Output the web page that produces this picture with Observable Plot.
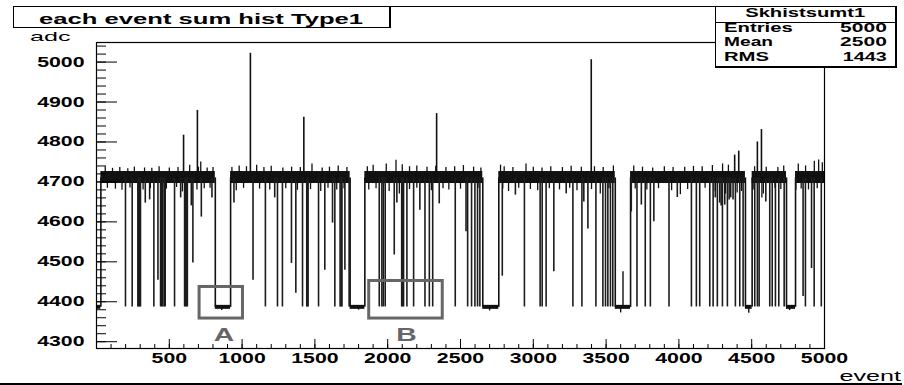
<!DOCTYPE html>
<html><head><meta charset="utf-8">
<script src="https://cdn.jsdelivr.net/npm/d3@7"></script>
<script src="https://cdn.jsdelivr.net/npm/@observablehq/plot@0.6"></script>
<style>
html,body{margin:0;padding:0;background:#fff;}
#wrap{position:relative;width:904px;height:385px;overflow:hidden;font-family:"Liberation Sans",Arial,Helvetica,sans-serif;color:#000;background:#fff;}
#chart{position:absolute;left:0;top:0;}
.t{position:absolute;white-space:nowrap;line-height:1;display:inline-block;}
.ln{position:absolute;background:#000;}
.box{position:absolute;box-sizing:border-box;background:#fff;border:1px solid #000;}
</style></head><body>
<div id="wrap"><div id="chart"></div></div>
<script>
// ---------- data ----------
const titleText = "each event sum hist Type1";
const statsName = "Skhistsumt1";
const statsLabels = ["Entries", "Mean", "RMS"];
const statsValues = ["5000", "2500", "1443"];
const yLabel = "adc";
const xLabel = "event";

const xMajor = [500, 1000, 1500, 2000, 2500, 3000, 3500, 4000, 4500, 5000];
const yMajor = [4300, 4400, 4500, 4600, 4700, 4800, 4900, 5000];

// baseline (noisy band around ~4710) segments [startEvent, endEvent]
const baseSegments = [[30,816],[921,1742],[1843,2653],[2763,3563],[3668,4457],[4503,4739],[4801,5000]];
const bandRange = [4696, 4726];
// low plateaus at ~4386
const lowPlateaus = [[0,30],[816,921],[1742,1843],[2653,2763],[3563,3668],[4457,4503],[4739,4801]];
const plateauRange = [4381, 4391];
const plateauLevel = 4386;
const baseLevel = 4710;
// vertical jumps between baseline and plateaus
const transitions = [30,816,921,1742,1843,2653,2763,3563,3668,4457,4503,4739,4801];

// downward spikes [event, lowest adc]
const drops = [
  [199,4387],[245,4387],[284,4387],[290,4387],[296,4387],[302,4387],[335,4647],[365,4655],[394,4387],[422,4454],
  [440,4387],[447,4387],[455,4387],[465,4387],[472,4387],[536,4387],[578,4660],[605,4387],[612,4387],[618,4387],
  [624,4387],[651,4640],[662,4497],[720,4612],[793,4660],
  [944,4647],[1075,4454],[1160,4387],[1224,4660],[1243,4387],[1277,4387],[1339,4496],[1369,4421],[1415,4387],
  [1444,4387],[1449,4387],[1453,4387],[1525,4387],[1568,4479],[1621,4597],[1637,4387],[1673,4387],[1680,4387],
  [1686,4387],[1706,4479],[1735,4387],
  [1942,4387],[1960,4387],[1970,4387],[1983,4387],[2045,4517],[2063,4647],[2096,4387],[2102,4387],[2109,4387],
  [2132,4387],[2178,4387],[2221,4629],[2256,4387],[2286,4387],[2309,4387],[2354,4645],[2464,4387],[2538,4575],
  [2549,4387],[2576,4387],[2599,4387],[2617,4387],[2633,4387],
  [2787,4464],[2877,4667],[2939,4387],[3047,4387],[3061,4387],[3088,4387],[3141,4475],[3226,4670],[3272,4387],
  [3334,4387],[3347,4650],[3375,4582],[3430,4387],[3478,4387],[3496,4387],[3512,4387],[3530,4387],[3546,4387],
  [3673,4625],[3712,4387],[3742,4642],[3769,4387],[3804,4387],[3828,4600],[3932,4387],[3989,4661],[4086,4387],
  [4120,4387],[4143,4387],[4212,4387],[4235,4387],[4250,4660],[4264,4387],[4280,4647],[4290,4640],[4299,4387],
  [4315,4642],[4333,4387],[4345,4655],[4356,4660],[4372,4655],[4388,4387],[4418,4387],[4441,4387],
  [4521,4387],[4539,4387],[4551,4387],[4597,4650],[4624,4387],[4641,4387],[4663,4387],[4686,4387],[4723,4387],
  [4803,4679],[4853,4413],[4869,4387],[4911,4483],[4929,4387],[4978,4387]
];
// upward spikes [event, peak adc]
const ups = [
  [598,4817],[693,4879],[1057,5022],[1424,4862],[2336,4871],[3398,5006],
  [4383,4767],[4411,4777],[4539,4800],[4567,4831]
];
// excursions inside the low plateaus [event, adc]
const plateauSpikes = [[2700,4377],[3600,4372],[3616,4475],[4480,4371],[4760,4378],[1800,4379],[860,4378]];
// small noise above / below the band [event, adc]
const noiseUp = [
  [60,4738],[110,4734],[160,4736],[215,4733],[260,4737],[330,4735],[380,4734],[430,4738],[500,4735],[560,4736],
  [640,4742],[700,4737],[716,4750],[760,4735],[800,4736],
  [930,4736],[980,4740],[1030,4738],[1100,4742],[1150,4736],[1200,4739],[1280,4735],[1340,4737],[1400,4736],
  [1480,4745],[1550,4735],[1600,4737],[1660,4740],[1720,4736],
  [1860,4738],[1900,4742],[1990,4745],[2057,4754],[2100,4743],[2150,4738],[2200,4740],[2270,4737],[2330,4739],
  [2400,4736],[2460,4738],[2520,4741],[2590,4737],[2640,4735],
  [2775,4742],[2800,4738],[2860,4736],[2950,4745],[3000,4737],[3060,4735],[3120,4738],[3200,4736],[3260,4739],
  [3330,4737],[3420,4738],[3480,4736],[3550,4740],
  [3690,4740],[3750,4737],[3820,4735],[3900,4738],[3960,4736],[4040,4737],[4100,4739],[4160,4738],[4230,4741],
  [4300,4745],[4340,4742],
  [4520,4738],[4600,4737],[4680,4736],[4720,4740],
  [4820,4745],[4870,4740],[4930,4752],[4960,4755],[4985,4748]
];
const noiseDown = [
  [75,4684],[130,4682],[175,4679],[230,4685],[320,4680],[370,4683],[480,4682],[550,4686],[590,4675],[690,4680],
  [740,4683],[780,4684],
  [960,4678],[1010,4684],[1120,4682],[1190,4680],[1300,4683],[1380,4679],[1470,4681],[1540,4676],[1590,4684],
  [1650,4680],[1700,4683],
  [1870,4680],[1920,4683],[2010,4676],[2080,4670],[2150,4681],[2200,4684],[2300,4678],[2380,4683],[2420,4680],
  [2500,4682],[2620,4684],
  [2790,4682],[2830,4676],[2900,4684],[2980,4681],[3030,4678],[3110,4683],[3180,4680],[3250,4684],[3300,4678],
  [3400,4681],[3460,4670],[3520,4683],
  [3700,4682],[3780,4680],[3860,4683],[3950,4678],[4010,4668],[4060,4681],[4180,4684],[4250,4676],[4320,4670],
  [4400,4672],[4430,4676],
  [4510,4680],[4570,4660],[4580,4670],[4660,4684],[4700,4681],
  [4840,4682],[4890,4680],[4950,4683]
];
// hand-drawn annotation boxes with their letters
const annotBoxes = [
  {label: "A", x1: 708, x2: 1006, y1: 4358, y2: 4437, lx: 876, ly: 4317},
  {label: "B", x1: 1873, x2: 2378, y1: 4358, y2: 4452, lx: 2129, ly: 4317}
];

// ---------- chart ----------
const ink = "#111";
const chart = Plot.plot({
  width: 904, height: 385,
  marginLeft: 96, marginRight: 80, marginTop: 42, marginBottom: 37,
  style: {background: "transparent", fontFamily: "'Liberation Sans', Arial, Helvetica, sans-serif", color: "#000", overflow: "visible"},
  x: {domain: [0, 5000], label: null},
  y: {domain: [4283, 5049], label: null},
  marks: [
    Plot.rect(baseSegments, {x1: d => d[0], x2: d => d[1], y1: bandRange[0], y2: bandRange[1], fill: ink}),
    Plot.rect(lowPlateaus, {x1: d => d[0], x2: d => d[1], y1: plateauRange[0], y2: plateauRange[1], fill: ink}),
    Plot.ruleX(transitions, {x: d => d, y1: plateauLevel, y2: baseLevel, stroke: ink, strokeWidth: 1.6}),
    Plot.ruleX(drops, {x: d => d[0], y1: baseLevel, y2: d => d[1], stroke: "#1c1c1c", strokeWidth: 1.6}),
    Plot.ruleX(ups, {x: d => d[0], y1: baseLevel, y2: d => d[1], stroke: ink, strokeWidth: 1.6}),
    Plot.ruleX(plateauSpikes, {x: d => d[0], y1: plateauLevel, y2: d => d[1], stroke: ink, strokeWidth: 1.4}),
    Plot.ruleX(noiseUp, {x: d => d[0], y1: baseLevel, y2: d => d[1], stroke: ink, strokeWidth: 1.3}),
    Plot.ruleX(noiseDown, {x: d => d[0], y1: baseLevel, y2: d => d[1], stroke: ink, strokeWidth: 1.3}),
    Plot.rect(annotBoxes, {x1: "x1", x2: "x2", y1: "y1", y2: "y2", fill: "none", stroke: "#666", strokeWidth: 3}),
    Plot.text(annotBoxes, {x: "lx", y: "ly", text: "label", fill: "#666", fontSize: 18.6, fontWeight: "bold"}),
    Plot.tickY(d3.range(4300, 5041, 20), {y: d => d, stroke: "#000", insetRight: 718}),
    Plot.tickY(yMajor, {y: d => d, stroke: "#000", insetRight: 707}),
    Plot.tickX(d3.range(0, 5001, 100), {x: d => d, stroke: "#000", insetTop: 302}),
    Plot.tickX(xMajor, {x: d => d, stroke: "#000", insetTop: 297}),
    Plot.frame({stroke: "#000", strokeWidth: 1.2}),
    Plot.axisY({ticks: yMajor, tickSize: 0, tickPadding: 12, tickFormat: d => String(d), fontSize: 14, fontWeight: "bold", label: null}),
    Plot.axisX({ticks: xMajor, tickSize: 0, tickPadding: 5, tickFormat: d => String(d), fontSize: 14, fontWeight: "bold", label: null})
  ]
});
document.getElementById("chart").appendChild(chart);

// the reference's lettering is stretched horizontally
chart.querySelectorAll("text").forEach(t => {
  const tr = t.getAttribute("transform");
  if (tr) t.setAttribute("transform", tr + " scale(1.52,1)");
});

// ---------- frame decorations and text outside the plot ----------
const wrap = document.getElementById("wrap");
function line(left, top, w, h) {
  const d = document.createElement("div");
  d.className = "ln";
  Object.assign(d.style, {left: left + "px", top: top + "px", width: w + "px", height: h + "px"});
  wrap.appendChild(d);
}
function box(left, top, w, h, extra) {
  const d = document.createElement("div");
  d.className = "box";
  Object.assign(d.style, {left: left + "px", top: top + "px", width: w + "px", height: h + "px"}, extra || {});
  wrap.appendChild(d);
  return d;
}
function label(str, o) {
  const s = document.createElement("span");
  s.className = "t";
  s.textContent = str;
  s.style.fontSize = o.size + "px";
  s.style.fontWeight = o.bold ? "bold" : "normal";
  if (o.color) s.style.color = o.color;
  wrap.appendChild(s);
  const w = s.getBoundingClientRect().width;
  const k = o.width / w;
  s.style.top = (o.base - 0.8465 * o.size) + "px";
  let left, origin;
  if (o.anchor === "end") { left = o.x - w; origin = "right center"; }
  else if (o.anchor === "middle") { left = o.x - w / 2; origin = "center center"; }
  else { left = o.x; origin = "left center"; }
  s.style.left = left + "px";
  s.style.transformOrigin = origin;
  s.style.transform = `scaleX(${k})`;
}

line(13, 6, 884, 1);     // top border
line(0, 383, 902, 1.5);  // bottom border

box(13, 6, 378, 22, {borderRightWidth: "2px", background: "transparent"});
label(titleText, {x: 201, base: 24, size: 15.5, bold: true, width: 324, anchor: "middle"});

box(715, 6, 182, 62, {borderRightWidth: "2px", borderBottomWidth: "2px"});
line(715, 22, 182, 1);
label(statsName, {x: 805, base: 17.5, size: 12.5, bold: true, width: 120, anchor: "middle"});
const rowBase = [32.3, 46.7, 61.2];
const labelW = [68.7, 49, 45];
const valueW = [46.7, 46.7, 44];
statsLabels.forEach((s, i) => label(s, {x: 724, base: rowBase[i], size: 12.5, bold: true, width: labelW[i], anchor: "start"}));
statsValues.forEach((s, i) => label(s, {x: 887, base: rowBase[i], size: 12.5, bold: true, width: valueW[i], anchor: "end"}));

label(yLabel, {x: 29.5, base: 41.5, size: 13.5, bold: false, width: 40.5, anchor: "start"});
label(xLabel, {x: 901, base: 381.5, size: 15.5, bold: false, width: 61.5, anchor: "end"});
</script></body></html>
